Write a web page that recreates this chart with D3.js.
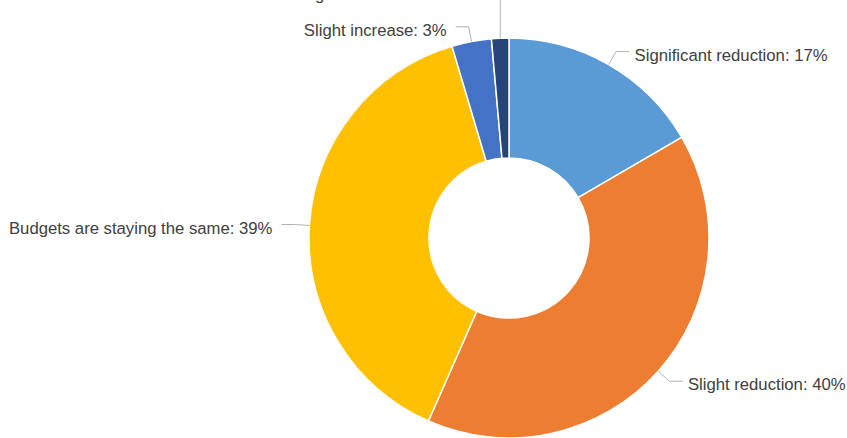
<!DOCTYPE html>
<html>
<head>
<meta charset="utf-8">
<script src="https://cdn.jsdelivr.net/npm/d3@7"></script>
<style>
  html, body { margin: 0; padding: 0; background: #fff; }
  svg { display: block; }
  text { font-family: "Liberation Sans", Arial, sans-serif; font-size: 16.7px; fill: #404040; }
</style>
</head>
<body>
<svg id="chart" width="847" height="438"></svg>
<script>
// Data (clockwise from 12 o'clock)
const categories = ["Significant reduction", "Slight reduction", "Budgets are staying the same", "Slight increase", "Significant increase"];
const values = [16.6, 40.0, 38.8, 3.2, 1.4];
const labelPct = ["17%", "40%", "39%", "3%", "1%"];
const colors = ["#5B9BD5", "#ED7D31", "#FFC000", "#4472C4", "#264478"];

const width = 847, height = 438;
const cx = 509, cy = 238;
const outerR = 200, innerR = 80;

const svg = d3.select("#chart");
const g = svg.append("g").attr("transform", `translate(${cx},${cy})`);

const pie = d3.pie().sort(null).value(d => d.value);
const data = categories.map((c, i) => ({ name: c, value: values[i], pct: labelPct[i], color: colors[i] }));
const arcs = pie(data);

const arc = d3.arc().innerRadius(innerR).outerRadius(outerR);

g.selectAll("path.slice")
  .data(arcs)
  .join("path")
  .attr("class", "slice")
  .attr("d", arc)
  .attr("fill", d => d.data.color)
  .attr("stroke", "#fff")
  .attr("stroke-width", 1.5);

// Leader lines and labels
const polar = (a, r) => [Math.sin(a) * r, -Math.cos(a) * r];
const elbowR = 215, tail = 13, gapRight = 5.5, gapLeft = 9, baseShift = 9.3;
// collision push for tiny slice at top (label pushed above the visible area)
const elbowYOverride = { "Significant increase": -247 };

arcs.forEach(d => {
  const mid = (d.startAngle + d.endAngle) / 2;
  const start = polar(mid, outerR);
  let elbow = polar(mid, elbowR);
  if (elbowYOverride[d.data.name] !== undefined) {
    elbow = [start[0], elbowYOverride[d.data.name]];
  }
  const right = Math.sin(mid) >= 0;
  const end = [elbow[0] + (right ? tail : -tail), elbow[1]];
  g.append("polyline")
    .attr("points", [start, elbow, end].map(p => p.join(",")).join(" "))
    .attr("fill", "none")
    .attr("stroke", "#b3b3b3")
    .attr("stroke-width", 1);
  g.append("text")
    .attr("x", end[0] + (right ? gapRight : -gapLeft))
    .attr("y", end[1] + baseShift)
    .attr("text-anchor", right ? "start" : "end")
    .text(`${d.data.name}: ${d.data.pct}`);
});
</script>
</body>
</html>
